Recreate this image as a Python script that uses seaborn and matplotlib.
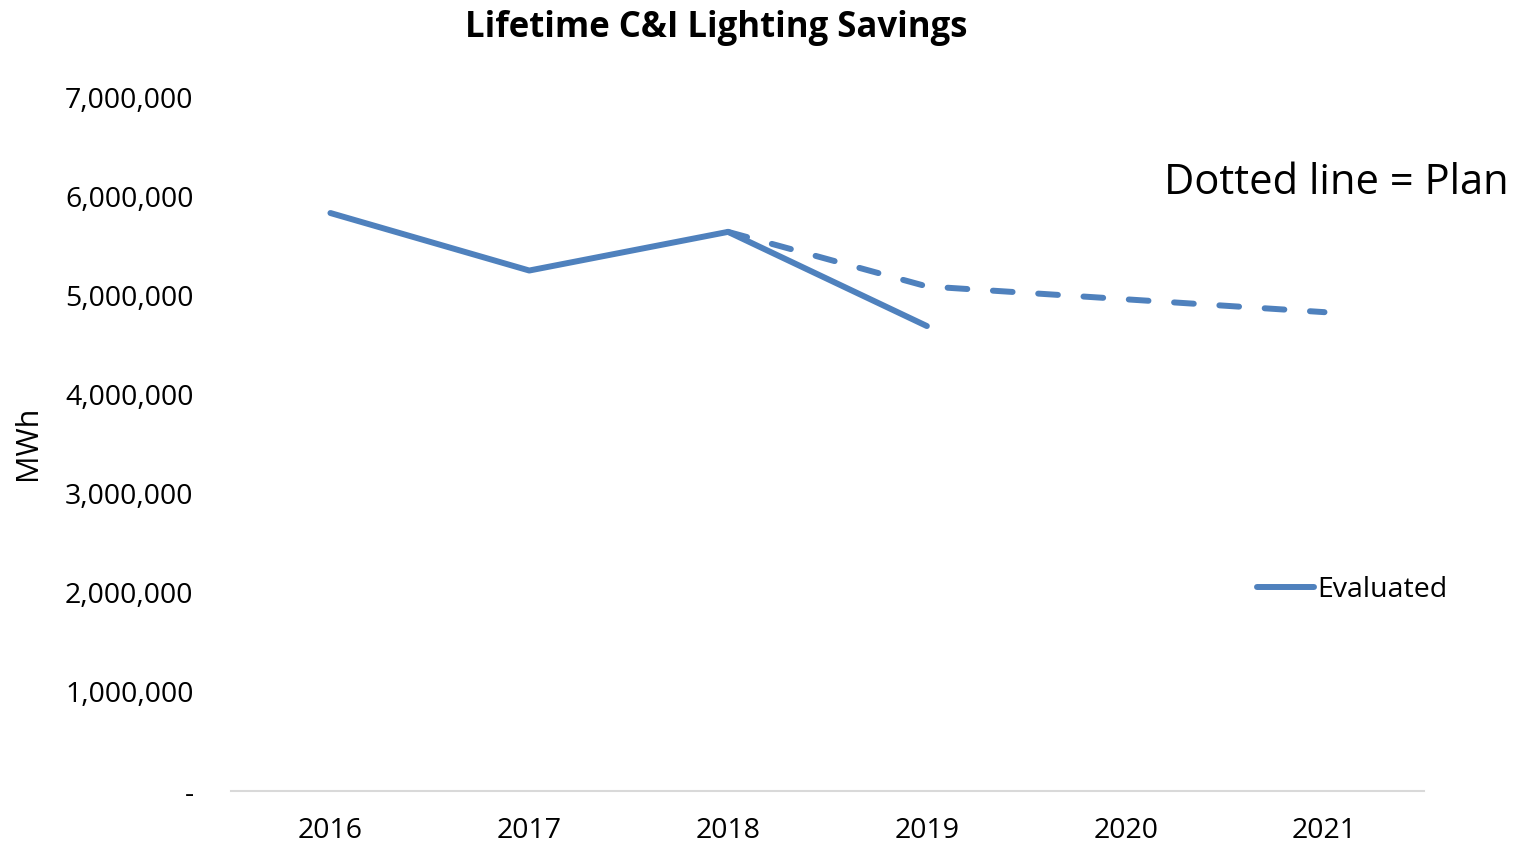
import matplotlib
matplotlib.use("Agg")
import matplotlib.pyplot as plt
import seaborn as sns
import pandas as pd
from matplotlib.ticker import FuncFormatter

years = ["2016", "2017", "2018", "2019", "2020", "2021"]
evaluated_years = ["2016", "2017", "2018", "2019"]
evaluated = [5830000, 5250000, 5640000, 4690000]
plan_years = ["2018", "2019", "2020", "2021"]
plan = [5640000, 5090000, 4960000, 4830000]

color = "#4f81bd"

sns.set_style("white")
plt.rcParams["font.family"] = ["Open Sans", "DejaVu Sans"]
plt.rcParams["text.color"] = "black"
plt.rcParams["xtick.color"] = "black"
plt.rcParams["ytick.color"] = "black"

fig = plt.figure(figsize=(15.18, 8.46), dpi=100)
ax = fig.add_axes([0.1522, 0.065, 0.7858, 0.8203])

ev_df = pd.DataFrame({"year": evaluated_years, "value": evaluated})
pl_df = pd.DataFrame({"year": plan_years, "value": plan})

# categorical x positions
pos = {y: i for i, y in enumerate(years)}
ev_df["x"] = ev_df["year"].map(pos)
pl_df["x"] = pl_df["year"].map(pos)

lw = 4.3
sns.lineplot(data=pl_df, x="x", y="value", ax=ax, color=color, linewidth=lw,
             legend=False)
ax.lines[-1].set_dashes((3.3, 4.3))
ax.lines[-1].set_dash_capstyle("round")
sns.lineplot(data=ev_df, x="x", y="value", ax=ax, color=color, linewidth=lw,
             label="Evaluated")
ax.lines[-1].set_solid_capstyle("round")
ax.lines[-1].set_solid_joinstyle("round")

ax.set_xlim(-0.5, len(years) - 0.5)
ax.set_ylim(0, 7000000)
ax.set_xticks(range(len(years)))
ax.set_xticklabels(years)
ax.set_yticks(range(0, 7000001, 1000000))
ax.yaxis.set_major_formatter(FuncFormatter(lambda v, p: "-" if v == 0 else f"{int(v):,}"))
ax.tick_params(axis="y", labelsize=20.5, length=0, pad=27)
ax.tick_params(axis="x", labelsize=20.5, length=0, pad=19)
ax.set_xlabel("")
ax.set_ylabel("")

for s in ["top", "right", "left"]:
    ax.spines[s].set_visible(False)
ax.spines["bottom"].set_color("#d9d9d9")
ax.spines["bottom"].set_linewidth(1.5)

fig.text(28 / 1518, 1 - 443 / 846, "MWh", fontsize=22, rotation=90,
         ha="center", va="center")
fig.text(0.472, 1 - 28 / 846, "Lifetime C&I Lighting Savings", fontsize=25,
         fontweight="bold", ha="center", va="center")
fig.text(0.767, 1 - 183 / 846, "Dotted line = Plan", fontsize=30, va="center", ha="left")

leg = ax.legend(loc="center left", bbox_to_anchor=(0.839, 0.29), frameon=False,
                fontsize=20.5, handlelength=2.0, handletextpad=0.1)

fig.savefig("out.png", dpi=100)
